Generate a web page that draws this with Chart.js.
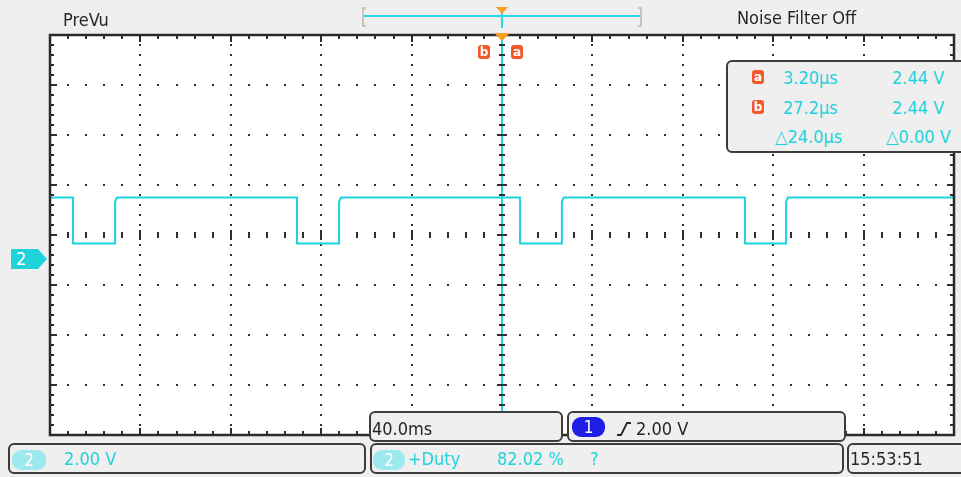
<!DOCTYPE html>
<html>
<head>
<meta charset="utf-8">
<script src="https://cdn.jsdelivr.net/npm/chart.js@4/dist/chart.umd.min.js"></script>
<style>
  html, body { margin: 0; padding: 0; background: #efefef; }
  #wrap { position: relative; width: 961px; height: 477px; overflow: hidden; background: #efefef;
          font-family: "DejaVu Sans Condensed", "DejaVu Sans", sans-serif; font-stretch: condensed; }
  #scope { position: absolute; left: 0; top: 0; }
  .t { position: absolute; font-size: 18px; line-height: 18px; white-space: nowrap; color: #262626; }
  .cy { color: #1fd3dd; }
  .panel { position: absolute; box-sizing: border-box; background: #efefef; border: 2px solid #3c3c3c; border-radius: 6px; }
  .pill { position: absolute; color: #fff; font-size: 17px; line-height: 20px; text-align: center; border-radius: 9px; }
  .cur { position: absolute; width: 12px; height: 14px; border-radius: 3px; background: #f25a2a; color: #fff;
         font: bold 12px/14px "DejaVu Sans", sans-serif; text-align: center; }
</style>
</head>
<body>
<div id="wrap">
  <canvas id="scope" width="961" height="477"></canvas>

  <!-- status bar -->
  <div class="t" style="left:63px; top:11px;">PreVu</div>
  <div class="t" style="left:737px; top:9px;">Noise Filter Off</div>
  <svg style="position:absolute; left:358px; top:4px;" width="290" height="28">
    <path d="M8 4 H5 V22 H8" fill="none" stroke="#b8b8b8" stroke-width="1.5"/>
    <path d="M280 4 H283 V22 H280" fill="none" stroke="#b8b8b8" stroke-width="1.5"/>
    <line x1="6" y1="12" x2="282" y2="12" stroke="#27d8e2" stroke-width="2"/>
    <line x1="144" y1="6" x2="144" y2="24" stroke="#27d8e2" stroke-width="2"/>
    <path d="M138 3 H150 L144 10 Z" fill="#f3a024"/>
  </svg>

  <!-- cursor markers -->
  <div class="cur" id="curB" style="top:45px;">b</div>
  <div class="cur" id="curA" style="top:45px;">a</div>

  <!-- cursor readout -->
  <div class="panel" style="left:726px; top:60px; width:250px; height:93px;"></div>
  <div class="cur" style="left:752px; top:70px;">a</div>
  <div class="cur" style="left:752px; top:100px;">b</div>
  <div class="t cy" id="rA_t" style="left:783px; top:69px;"></div>
  <div class="t cy" id="rA_v" style="left:892px; top:69px;"></div>
  <div class="t cy" id="rB_t" style="left:783px; top:99px;"></div>
  <div class="t cy" id="rB_v" style="left:892px; top:99px;"></div>
  <div class="t cy" id="rD_t" style="left:775px; top:128px;"></div>
  <div class="t cy" id="rD_v" style="left:886px; top:128px;"></div>

  <!-- channel 2 ground marker -->
  <div id="gnd" style="position:absolute; left:11px; width:36px; height:20px; background:#1fd3dd;
       clip-path: polygon(0 0, 75% 0, 100% 50%, 75% 100%, 0 100%);">
    <div style="position:absolute; left:5px; top:0; color:#fff; font-size:18px; line-height:20px;">2</div>
  </div>

  <!-- timebase / trigger -->
  <div class="panel" style="left:369px; top:411px; width:194px; height:31px;"></div>
  <div class="t" id="tbase" style="left:372px; top:420px;"></div>
  <div class="panel" style="left:567px; top:411px; width:279px; height:31px;"></div>
  <div class="pill" style="left:572px; top:417px; width:33px; background:#1e1ee6;">1</div>
  <svg style="position:absolute; left:615px; top:420px;" width="18" height="18">
    <polyline points="2,15 6,15 12,3 16,3" fill="none" stroke="#262626" stroke-width="1.8"/>
  </svg>
  <div class="t" id="trig" style="left:636px; top:420px;"></div>

  <!-- measurement bar -->
  <div class="panel" style="left:8px; top:443px; width:358px; height:31px;"></div>
  <div class="pill" style="left:12px; top:450px; width:34px; background:#9ce9ef;">2</div>
  <div class="t cy" id="vdiv" style="left:64px; top:450px;"></div>
  <div class="panel" style="left:370px; top:443px; width:474px; height:31px;"></div>
  <div class="pill" style="left:373px; top:450px; width:32px; background:#9ce9ef;">2</div>
  <div class="t cy" style="left:408px; top:450px;">+Duty</div>
  <div class="t cy" id="duty" style="left:497px; top:450px;"></div>
  <div class="t cy" style="left:590px; top:450px;">?</div>
  <div class="panel" style="left:847px; top:443px; width:130px; height:31px;"></div>
  <div class="t" id="clock" style="left:850px; top:450px;"></div>
</div>

<script>
// Channel 2 acquisition, 40 ms/div, 2 V/div, trigger at t = 0
const timePerDiv = 40;          // ms
const voltsPerDiv = 2;          // V
const timeRange = [-200, 200];  // ms across 10 divisions
const voltRange = [-7.06, 8.94];// V across 8 divisions (ground offset)

const highLevel = 2.44;         // V
const lowLevel = 0.60;          // V
const edgeKnee = 2.27;          // V, where each rising edge rounds off
const fallTimes = [-189.8, -90.7, 8.0, 107.5];   // ms
const riseTimes = [-171.2, -72.1, 26.5, 125.7];  // ms

const cursorA = { t: 3.20, v: 2.44 };  // µs, V
const cursorB = { t: 27.2, v: 2.44 };

const readouts = {
  timebase: "40.0ms",
  trigger: "2.00 V",
  vdiv: "2.00 V",
  duty: "82.02 %",
  clock: "15:53:51"
};

// step trace from the edge list
const trace = [{ x: timeRange[0], y: highLevel }];
for (let i = 0; i < fallTimes.length; i++) {
  trace.push({ x: fallTimes[i], y: highLevel });
  trace.push({ x: fallTimes[i], y: lowLevel });
  trace.push({ x: riseTimes[i], y: lowLevel });
  trace.push({ x: riseTimes[i], y: edgeKnee });
  trace.push({ x: riseTimes[i] + 0.8, y: highLevel });
}
trace.push({ x: timeRange[1], y: highLevel });

// text readouts
const fmtT = us => us.toFixed(us < 10 ? 2 : 1) + "\u00b5s";
document.getElementById("rA_t").textContent = fmtT(cursorA.t);
document.getElementById("rB_t").textContent = fmtT(cursorB.t);
document.getElementById("rA_v").textContent = cursorA.v.toFixed(2) + " V";
document.getElementById("rB_v").textContent = cursorB.v.toFixed(2) + " V";
document.getElementById("rD_t").textContent = "\u25b3" + (cursorB.t - cursorA.t).toFixed(1) + "\u00b5s";
document.getElementById("rD_v").textContent = "\u25b3" + (cursorB.v - cursorA.v).toFixed(2) + " V";
document.getElementById("tbase").textContent = readouts.timebase;
document.getElementById("trig").textContent = readouts.trigger;
document.getElementById("vdiv").textContent = readouts.vdiv;
document.getElementById("duty").textContent = readouts.duty;
document.getElementById("clock").textContent = readouts.clock;

const INK = "#2e2e2e";

// graticule: white field, dotted divisions, centre axes and border ticks
const graticule = {
  id: "graticule",
  beforeDatasetsDraw(chart) {
    const { ctx, chartArea: a } = chart;
    const w = a.right - a.left, h = a.bottom - a.top;
    const dx = w / 10, dy = h / 8, mx = dx / 5, my = dy / 5;
    const cy = a.top + h / 2;
    ctx.save();
    ctx.fillStyle = "#ffffff";
    ctx.fillRect(a.left, a.top, w, h);
    ctx.fillStyle = INK;
    // dotted verticals
    for (let i = 1; i < 10; i++) {
      if (i === 5) continue;
      const x = Math.round(a.left + i * dx);
      for (let j = 1; j < 40; j++) ctx.fillRect(x - 1, Math.round(a.top + j * my) - 1, 2, 2);
    }
    // dotted horizontals
    for (let j = 1; j < 8; j++) {
      if (j === 4) continue;
      const y = Math.round(a.top + j * dy);
      for (let i = 1; i < 50; i++) ctx.fillRect(Math.round(a.left + i * mx) - 1, y - 1, 2, 2);
    }
    // centre horizontal axis ticks
    for (let i = 1; i < 50; i++) {
      const x = Math.round(a.left + i * mx);
      const major = i % 5 === 0;
      ctx.fillRect(x - 1, Math.round(cy) - (major ? 5 : 3), 2, major ? 10 : 6);
    }
    // border ticks
    for (let i = 1; i < 50; i++) {
      const x = Math.round(a.left + i * mx);
      const len = i % 5 === 0 ? 7 : 4;
      ctx.fillRect(x - 1, a.top, 2, len);
      ctx.fillRect(x - 1, a.bottom - len, 2, len);
    }
    for (let j = 1; j < 40; j++) {
      const y = Math.round(a.top + j * my);
      const len = j % 5 === 0 ? 7 : 4;
      ctx.fillRect(a.left, y - 1, len, 2);
      ctx.fillRect(a.right - len, y - 1, len, 2);
    }
    ctx.restore();
  },
  afterDatasetsDraw(chart) {
    const { ctx, chartArea: a, scales } = chart;
    const h = a.bottom - a.top, my = h / 40;
    const cx = Math.round(scales.x.getPixelForValue(cursorA.t / 1000));
    ctx.save();
    // cursor line
    ctx.fillStyle = "#1fd3dd";
    ctx.fillRect(cx - 1, a.top + 4, 2, h - 4);
    // centre vertical axis ticks over it
    ctx.fillStyle = INK;
    for (let j = 1; j < 40; j++) {
      const y = Math.round(a.top + j * my);
      const major = j % 5 === 0;
      ctx.fillRect(cx - (major ? 5 : 3), y - 1, major ? 10 : 6, 2);
    }
    // border
    ctx.strokeStyle = "#2a2a2a";
    ctx.lineWidth = 2.5;
    ctx.strokeRect(a.left, a.top, a.right - a.left, h);
    // trigger position marker
    ctx.fillStyle = "#f3a024";
    ctx.beginPath();
    ctx.moveTo(cx - 8, a.top - 2);
    ctx.lineTo(cx + 8, a.top - 2);
    ctx.lineTo(cx, a.top + 6);
    ctx.closePath();
    ctx.fill();
    ctx.restore();

    // place html markers from the scales
    const gy = scales.y.getPixelForValue(0);
    document.getElementById("gnd").style.top = Math.round(gy - 10) + "px";
    document.getElementById("curB").style.left = (cx - 24) + "px";
    document.getElementById("curA").style.left = (cx + 9) + "px";
  }
};

new Chart(document.getElementById("scope"), {
  type: "line",
  data: {
    datasets: [{
      data: trace,
      borderColor: "#1fd3dd",
      borderWidth: 2,
      pointRadius: 0,
      tension: 0,
      fill: false
    }]
  },
  options: {
    responsive: false,
    animation: false,
    devicePixelRatio: 1,
    layout: { padding: { left: 50, right: 7, top: 35, bottom: 42 } },
    scales: {
      x: { type: "linear", min: timeRange[0], max: timeRange[1], display: false },
      y: { type: "linear", min: voltRange[0], max: voltRange[1], display: false }
    },
    plugins: { legend: { display: false }, tooltip: { enabled: false } },
    events: []
  },
  plugins: [graticule]
});
</script>
</body>
</html>
